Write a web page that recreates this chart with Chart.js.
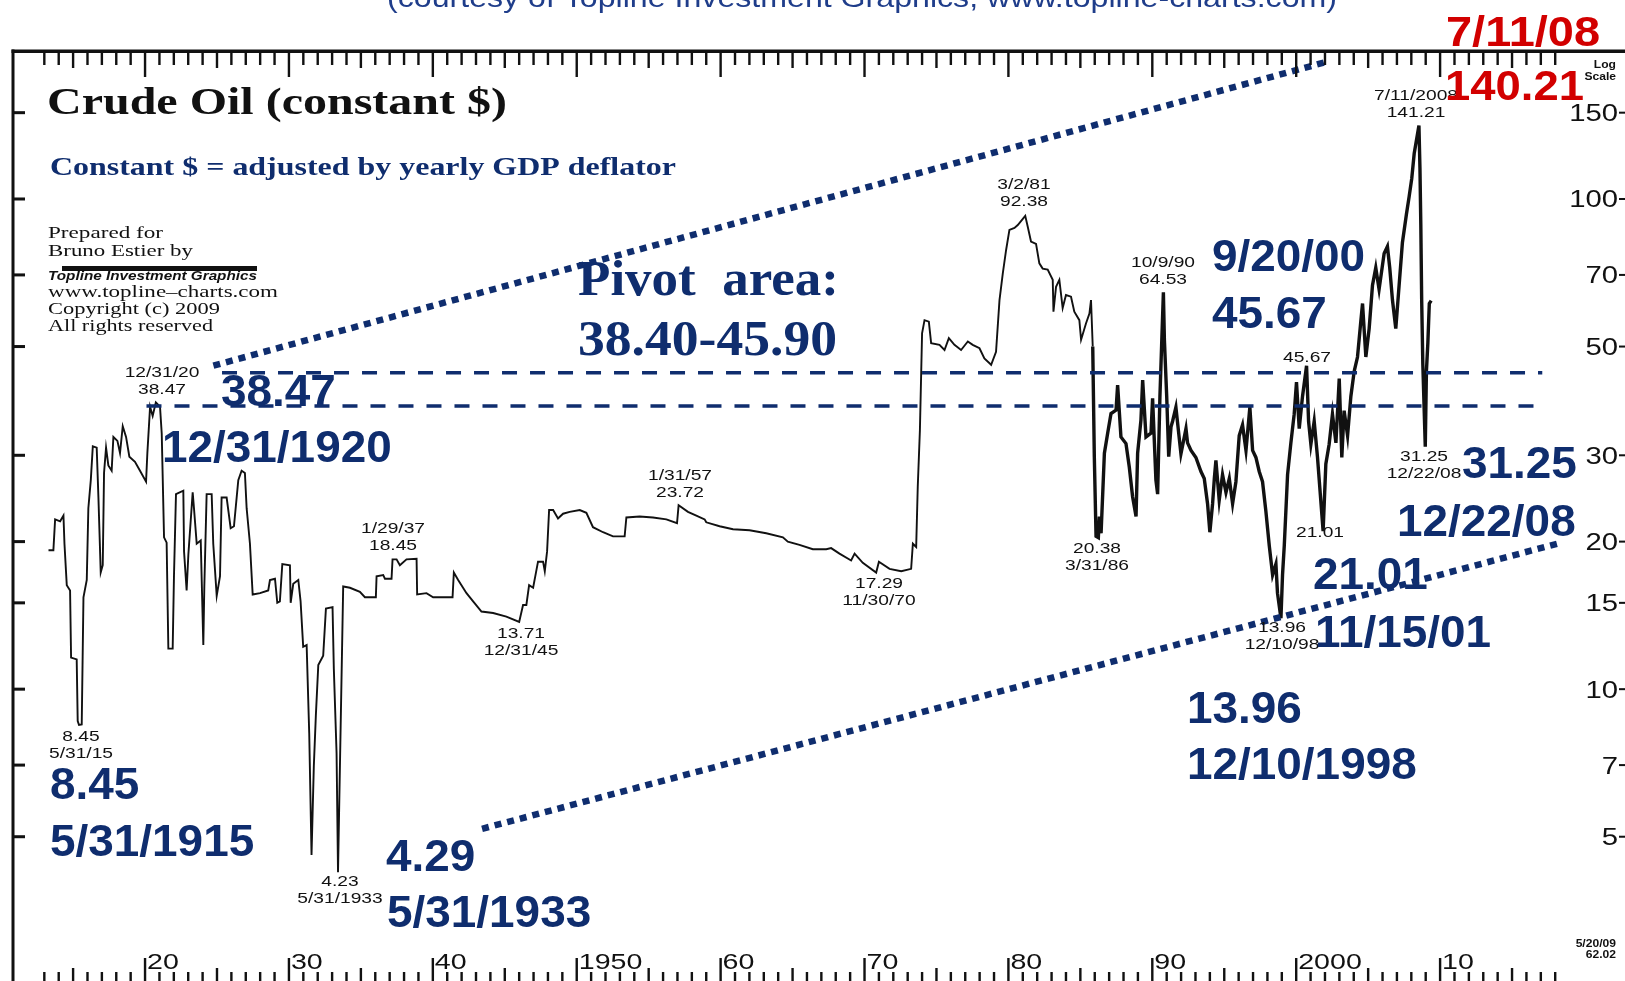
<!DOCTYPE html>
<html>
<head>
<meta charset="utf-8">
<title>Crude Oil (constant $)</title>
<script src="https://cdn.jsdelivr.net/npm/chart.js@4.4.1/dist/chart.umd.min.js"></script>
<style>
  html, body { margin: 0; padding: 0; background: #fff; overflow: hidden; }
  #wrap { width: 1625px; height: 981px; }
</style>
</head>
<body>
<div id="wrap"><canvas id="oilChart" width="1625" height="981"></canvas></div>
<script>
// crude oil, constant $, year as decimal
const oilYears = [
  1913.29, 1913.63, 1913.75, 1914.10, 1914.33, 1914.40, 1914.56, 1914.79, 1914.86, 1915.25,
  1915.32, 1915.41, 1915.60, 1915.72, 1915.95, 1916.06, 1916.23, 1916.37, 1916.64, 1916.76,
  1916.92, 1917.06, 1917.15, 1917.29, 1917.45, 1917.68, 1917.80, 1918.08, 1918.26, 1918.45,
  1918.68, 1918.91, 1919.30, 1919.65, 1920.07, 1920.16, 1920.35, 1920.53, 1920.75, 1921.04,
  1921.16, 1921.32, 1921.50, 1921.62, 1921.92, 1922.01, 1922.15, 1922.66, 1922.71, 1922.89,
  1923.01, 1923.31, 1923.40, 1923.59, 1923.87, 1924.05, 1924.12, 1924.28, 1924.63, 1924.74,
  1924.98, 1925.21, 1925.32, 1925.67, 1925.95, 1926.18, 1926.48, 1926.71, 1926.94, 1927.06,
  1927.29, 1927.48, 1927.99, 1928.56, 1928.68, 1929.03, 1929.19, 1929.37, 1929.54, 1930.07,
  1930.12, 1930.30, 1930.65, 1930.81, 1930.99, 1931.23, 1931.41, 1931.57, 1931.73, 1931.87,
  1932.04, 1932.38, 1932.57, 1933.03, 1933.12, 1933.31, 1933.41, 1933.77, 1934.24, 1934.93,
  1935.28, 1936.04, 1936.09, 1936.55, 1936.67, 1937.13, 1937.20, 1937.48, 1937.71, 1938.17,
  1938.87, 1938.91, 1939.56, 1940.02, 1941.37, 1941.46, 1941.76, 1942.34, 1942.80, 1943.38,
  1944.19, 1945.11, 1946.00, 1946.27, 1946.50, 1946.69, 1946.97, 1947.31, 1947.66, 1947.78,
  1947.94, 1948.08, 1948.36, 1948.70, 1949.05, 1949.51, 1950.21, 1950.67, 1951.13, 1951.83,
  1952.52, 1953.33, 1953.45, 1954.37, 1955.30, 1956.23, 1956.97, 1957.08, 1957.73, 1958.31,
  1958.89, 1959.00, 1959.93, 1960.86, 1962.01, 1963.17, 1964.33, 1964.67, 1965.48, 1966.41,
  1967.34, 1967.68, 1968.26, 1969.07, 1969.31, 1969.88, 1970.81, 1971.00, 1971.74, 1972.55,
  1973.24, 1973.36, 1973.59, 1973.70, 1973.85, 1974.00, 1974.17, 1974.47, 1974.63, 1975.21,
  1975.56, 1975.86, 1976.25, 1976.71, 1977.18, 1977.52, 1977.99, 1978.33, 1978.80, 1979.14,
  1979.38, 1979.61, 1979.84, 1980.07, 1980.42, 1980.65, 1981.17, 1981.34, 1981.57, 1981.92,
  1982.15, 1982.38, 1982.73, 1983.08, 1983.13, 1983.31, 1983.54, 1983.77, 1984.00, 1984.35,
  1984.58, 1984.93, 1985.05, 1985.39, 1985.63, 1985.74, 1985.86, 1985.97, 1986.09, 1986.25,
  1986.32, 1986.44, 1986.67, 1986.90, 1987.13, 1987.48, 1987.59, 1987.82, 1988.17, 1988.40,
  1988.63, 1988.87, 1988.98, 1989.21, 1989.33, 1989.56, 1989.91, 1990.02, 1990.25, 1990.37,
  1990.53, 1990.77, 1990.84, 1991.00, 1991.14, 1991.30, 1991.41, 1991.64, 1991.99, 1992.34,
  1992.45, 1992.69, 1993.03, 1993.38, 1993.61, 1993.84, 1994.00, 1994.19, 1994.31, 1994.42,
  1994.65, 1994.88, 1995.12, 1995.35, 1995.58, 1995.81, 1996.04, 1996.27, 1996.51, 1996.78,
  1996.97, 1997.20, 1997.43, 1997.66, 1997.89, 1998.13, 1998.36, 1998.59, 1998.70, 1998.94,
  1999.05, 1999.17, 1999.40, 1999.63, 1999.86, 2000.02, 2000.21, 2000.44, 2000.72, 2000.86,
  2001.02, 2001.25, 2001.48, 2001.87, 2002.06, 2002.29, 2002.52, 2002.76, 2002.99, 2003.17,
  2003.33, 2003.57, 2003.80, 2004.03, 2004.26, 2004.49, 2004.61, 2004.84, 2005.07, 2005.30,
  2005.53, 2005.76, 2006.11, 2006.34, 2006.50, 2006.69, 2006.92, 2007.15, 2007.38, 2007.66,
  2007.85, 2008.03, 2008.20, 2008.53, 2008.60, 2008.66, 2008.72, 2008.80, 2008.97, 2009.05,
  2009.15, 2009.25, 2009.38
];
const oilPrices = [
  19.2, 19.2, 22.2, 22.0, 22.6, 19.8, 16.3, 15.9, 11.6, 11.5,
  8.61, 8.45, 8.47, 15.4, 16.7, 23.4, 26.7, 31.3, 31.1, 24.6,
  17.3, 17.9, 27.6, 31.1, 28.6, 27.9, 32.7, 32.1, 30.3, 34.4,
  32.7, 29.8, 29.1, 27.9, 26.5, 30.3, 37.7, 36.1, 38.47, 37.7,
  33.2, 20.4, 19.9, 12.1, 12.1, 17.0, 25.0, 25.4, 19.1, 15.9,
  18.8, 25.2, 23.4, 19.8, 20.1, 12.3, 16.2, 25.0, 25.0, 19.8,
  15.5, 17.0, 24.6, 24.6, 21.3, 21.5, 26.7, 27.9, 27.6, 23.4,
  19.8, 15.6, 15.7, 15.9, 16.7, 16.8, 15.0, 15.1, 18.0, 17.9,
  15.0, 16.4, 16.7, 15.1, 12.2, 12.3, 8.12, 4.59, 6.98, 8.83,
  11.2, 11.7, 14.6, 14.7, 11.0, 7.40, 4.23, 16.2, 16.1, 15.8,
  15.4, 15.4, 17.0, 17.1, 16.8, 16.8, 18.4, 18.4, 17.9, 18.4,
  18.45, 15.6, 15.7, 15.4, 15.4, 17.3, 16.7, 15.7, 15.1, 14.4,
  14.3, 14.06, 13.71, 14.85, 14.85, 16.3, 16.1, 18.2, 18.2, 17.4,
  19.1, 23.2, 23.2, 22.3, 22.8, 23.0, 23.2, 22.9, 21.4, 20.9,
  20.5, 20.5, 22.4, 22.5, 22.4, 22.2, 21.8, 23.72, 23.0, 22.6,
  22.2, 21.9, 21.5, 21.2, 21.1, 20.8, 20.4, 20.0, 19.7, 19.3,
  19.3, 19.4, 18.9, 18.3, 18.9, 18.1, 17.29, 18.2, 17.6, 17.4,
  17.6, 19.8, 19.5, 25.9, 33.8, 53.2, 56.6, 56.2, 50.8, 50.4,
  49.2, 52.0, 50.4, 49.2, 51.2, 50.4, 49.6, 47.3, 45.9, 48.8,
  62.2, 70.5, 78.7, 86.5, 87.3, 88.5, 92.38, 87.9, 81.9, 81.0,
  73.9, 72.1, 71.8, 68.4, 58.9, 66.2, 68.4, 59.9, 63.7, 63.2,
  58.9, 56.6, 51.6, 55.7, 58.4, 62.2, 50.0, 29.8, 20.5, 20.38,
  22.5, 20.8, 30.3, 33.3, 36.5, 37.1, 41.7, 32.7, 31.7, 28.4,
  24.7, 22.5, 30.3, 35.4, 42.7, 32.7, 33.3, 39.2, 26.7, 25.0,
  39.6, 64.53, 51.6, 39.6, 29.8, 34.3, 35.2, 37.6, 30.2, 34.0,
  31.8, 30.7, 29.7, 27.8, 26.9, 23.9, 20.9, 23.9, 26.9, 29.3,
  24.3, 27.4, 25.2, 26.9, 23.9, 26.5, 32.9, 34.6, 30.7, 37.6,
  30.7, 29.7, 27.8, 26.5, 23.1, 19.6, 17.1, 18.0, 15.7, 13.96,
  17.1, 19.6, 27.4, 31.8, 36.4, 42.3, 34.0, 39.6, 45.67, 35.2,
  31.6, 35.2, 29.7, 21.01, 28.8, 31.6, 36.4, 31.8, 43.0, 29.7,
  37.0, 32.9, 39.6, 44.5, 47.6, 56.3, 61.2, 47.6, 54.4, 66.6,
  72.4, 65.4, 77.4, 80.0, 72.4, 62.2, 54.4, 66.6, 81.4, 93.1,
  101.2, 110.1, 123.8, 141.21, 115.7, 88.5, 62.2, 46.0, 31.25, 44.5,
  50.9, 61.2, 62.02
];
// year where the trace gets dense (drawn heavier)
const denseFrom = 1985.86;

// pivot band (dashed) and trend channel (dotted)
const pivotLevels = [44.2, 37.8];
const pivotStarts = [1925.35, 1920.1];
const pivotEnd = 2017.1;
const channelUpperYears = [1924.75, 2002.07];
const channelUpperValues = [45.7, 190.3];
const channelLowerYears = [1943.42, 2018.33];
const channelLowerValues = [5.19, 19.87];

// axes
const yTickValues = [150, 100, 70, 50, 30, 20, 15, 10, 7, 5];
const decadeTicks = [1920, 1930, 1940, 1950, 1960, 1970, 1980, 1990, 2000, 2010];
const decadeLabels = ['20', '30', '40', '1950', '60', '70', '80', '90', '2000', '10'];
const firstTickYear = 1913;
const lastTickYear = 2018;

// small black notes at turning points
const notes = [
  { lines: ['12/31/20', '38.47'], x: 162, y: 377 },
  { lines: ['8.45', '5/31/15'], x: 81, y: 741 },
  { lines: ['4.23', '5/31/1933'], x: 340, y: 886 },
  { lines: ['1/29/37', '18.45'], x: 393, y: 533 },
  { lines: ['13.71', '12/31/45'], x: 521, y: 638 },
  { lines: ['1/31/57', '23.72'], x: 680, y: 480 },
  { lines: ['17.29', '11/30/70'], x: 879, y: 588 },
  { lines: ['3/2/81', '92.38'], x: 1024, y: 189 },
  { lines: ['10/9/90', '64.53'], x: 1163, y: 267 },
  { lines: ['20.38', '3/31/86'], x: 1097, y: 553 },
  { lines: ['45.67'], x: 1307, y: 362 },
  { lines: ['21.01'], x: 1320, y: 537 },
  { lines: ['13.96', '12/10/98'], x: 1282, y: 632 },
  { lines: ['7/11/2008', '141.21'], x: 1416, y: 100 },
  { lines: ['31.25', '12/22/08'], x: 1424, y: 461 }
];

// big blue callouts
const callouts = [
  ['38.47', 221, 406], ['12/31/1920', 162, 462],
  ['8.45', 50, 799], ['5/31/1915', 50, 856],
  ['4.29', 386, 871], ['5/31/1933', 387, 927],
  ['9/20/00', 1212, 271], ['45.67', 1212, 328],
  ['31.25', 1462, 478], ['12/22/08', 1397, 536],
  ['21.01', 1313, 589], ['11/15/01', 1315, 647],
  ['13.96', 1187, 723], ['12/10/1998', 1187, 779]
];

const NAVY = '#0f2d6e';
const RED = '#d20000';
const INK = '#111111';

function pts(xs, ys) {
  return xs.map((x, i) => ({ x: x, y: ys[i] }));
}

const allPts = pts(oilYears, oilPrices);
const cut = oilYears.indexOf(denseFrom);

function drawStretched(c, str, x, y, font, color, align, sx, targetW) {
  c.save();
  c.font = font;
  c.fillStyle = color;
  c.textBaseline = 'alphabetic';
  c.textAlign = 'left';
  const raw = c.measureText(str).width;
  if (targetW) sx = targetW / raw;
  const w = raw * sx;
  let left = x;
  if (align === 'center') left = x - w / 2;
  else if (align === 'right') left = x - w;
  c.translate(left, y);
  c.scale(sx, 1);
  c.fillText(str, 0, 0);
  c.restore();
}

const overlay = {
  id: 'overlay',
  beforeDraw(chart) {
    const c = chart.ctx;
    c.save();
    c.fillStyle = '#fff';
    c.fillRect(0, 0, chart.width, chart.height);
    c.restore();
  },
  afterDatasetsDraw(chart) {
    const c = chart.ctx;
    const xs = chart.scales.x;
    const ys = chart.scales.y;
    c.save();
    c.fillStyle = INK;
    // frame
    c.fillRect(11.5, 49.5, 1614, 3.5);
    c.fillRect(11.5, 49.5, 3, 932);
    // yearly ticks, top and bottom
    for (let yr = firstTickYear; yr <= lastTickYear; yr++) {
      const px = xs.getPixelForValue(yr);
      const major = yr % 10 === 0;
      const mid = yr % 5 === 0;
      c.fillRect(px - 1.2, 52, 2.4, major ? 25 : (mid ? 16 : 13));
      const h = major ? 23 : (mid ? 13 : 9);
      c.fillRect(px - 1.2, 981 - h, 2.4, h);
    }
    // price ticks on the left edge, labels on the right
    yTickValues.forEach(v => {
      const py = ys.getPixelForValue(v);
      c.fillRect(12, py - 1.5, 13, 3);
      c.fillRect(1619, py - 1, 6, 2);
      drawStretched(c, String(v), 1618, py + 8.5, '24px "Liberation Sans"', INK, 'right', 1.22);
    });
    decadeTicks.forEach((yr, i) => {
      drawStretched(c, decadeLabels[i], xs.getPixelForValue(yr) + 2, 969, '22px "Liberation Sans"', INK, 'left', 1.3);
    });
    drawStretched(c, 'Log', 1616, 68, 'bold 11px "Liberation Sans"', INK, 'right', 1.1);
    drawStretched(c, 'Scale', 1616, 80, 'bold 11px "Liberation Sans"', INK, 'right', 1.1);
    drawStretched(c, '5/20/09', 1616, 947, 'bold 11px "Liberation Sans"', INK, 'right', 1.1);
    drawStretched(c, '62.02', 1616, 958, 'bold 11px "Liberation Sans"', INK, 'right', 1.1);

    // header and titles
    drawStretched(c, '(courtesy of Topline Investment Graphics, www.topline-charts.com)', 862, 7,
      '28px "Liberation Sans"', '#1f3d8a', 'center', 1, 950);
    drawStretched(c, 'Crude Oil (constant $)', 47, 114, 'bold 37px "Liberation Serif"', INK, 'left', 1, 460);
    drawStretched(c, 'Constant $ = adjusted by yearly GDP deflator', 50, 175, 'bold 26px "Liberation Serif"', NAVY, 'left', 1, 626);

    // credit block
    const serif = '17px "Liberation Serif"';
    drawStretched(c, 'Prepared for', 48, 238, serif, INK, 'left', 1, 115);
    drawStretched(c, 'Bruno Estier by', 48, 256, serif, INK, 'left', 1, 145);
    c.fillRect(62, 266, 195, 5);
    drawStretched(c, 'Topline Investment Graphics', 48, 280, 'italic bold 13px "Liberation Sans"', INK, 'left', 1, 209);
    drawStretched(c, 'www.topline\u2013charts.com', 48, 297, serif, INK, 'left', 1, 230);
    drawStretched(c, 'Copyright (c) 2009', 48, 314, serif, INK, 'left', 1, 172);
    drawStretched(c, 'All rights reserved', 48, 331, serif, INK, 'left', 1, 165);

    // small notes
    notes.forEach(n => {
      n.lines.forEach((s, k) => {
        drawStretched(c, s, n.x, n.y + k * 16.5, '15px "Liberation Sans"', INK, 'center', 1.28);
      });
    });

    // pivot text
    drawStretched(c, 'Pivot  area:', 578, 295, 'bold 50px "Liberation Serif"', NAVY, 'left', 1, 261);
    drawStretched(c, '38.40-45.90', 578, 355, 'bold 50px "Liberation Serif"', NAVY, 'left', 1, 259);

    // callouts
    callouts.forEach(([s, x, y]) => {
      drawStretched(c, s, x, y, 'bold 45px "Liberation Sans"', NAVY, 'left', 1.02);
    });
    drawStretched(c, '7/11/08', 1446, 46, 'bold 43px "Liberation Sans"', RED, 'left', 1, 154);
    drawStretched(c, '140.21', 1445, 100, 'bold 43px "Liberation Sans"', RED, 'left', 1, 139);
    c.restore();
  }
};

const lineBase = {
  pointRadius: 0,
  fill: false,
  tension: 0,
  borderJoinStyle: 'miter'
};

new Chart(document.getElementById('oilChart').getContext('2d'), {
  type: 'line',
  data: {
    datasets: [
      Object.assign({ data: allPts.slice(0, cut + 1), borderColor: INK, borderWidth: 1.9, order: 3 }, lineBase),
      Object.assign({ data: allPts.slice(cut), borderColor: INK, borderWidth: 3.4, order: 3 }, lineBase),
      Object.assign({ data: [{ x: pivotStarts[0], y: pivotLevels[0] }, { x: pivotEnd, y: pivotLevels[0] }],
        borderColor: NAVY, borderWidth: 3.5, borderDash: [15, 13], order: 2 }, lineBase),
      Object.assign({ data: [{ x: pivotStarts[1], y: pivotLevels[1] }, { x: pivotEnd, y: pivotLevels[1] }],
        borderColor: NAVY, borderWidth: 3.5, borderDash: [15, 13], order: 2 }, lineBase),
      Object.assign({ data: pts(channelUpperYears, channelUpperValues),
        borderColor: NAVY, borderWidth: 6.5, borderDash: [7, 6], borderCapStyle: 'butt', order: 1 }, lineBase),
      Object.assign({ data: pts(channelLowerYears, channelLowerValues),
        borderColor: NAVY, borderWidth: 6.5, borderDash: [7, 6], borderCapStyle: 'butt', order: 1 }, lineBase)
    ]
  },
  options: {
    responsive: false,
    animation: false,
    layout: { padding: 0 },
    plugins: { legend: { display: false }, tooltip: { enabled: false } },
    scales: {
      x: { type: 'linear', min: 1909.92, max: 2022.85, display: false },
      y: { type: 'logarithmic', min: 2.5388, max: 254.66, display: false }
    }
  },
  plugins: [overlay]
});
</script>
</body>
</html>
